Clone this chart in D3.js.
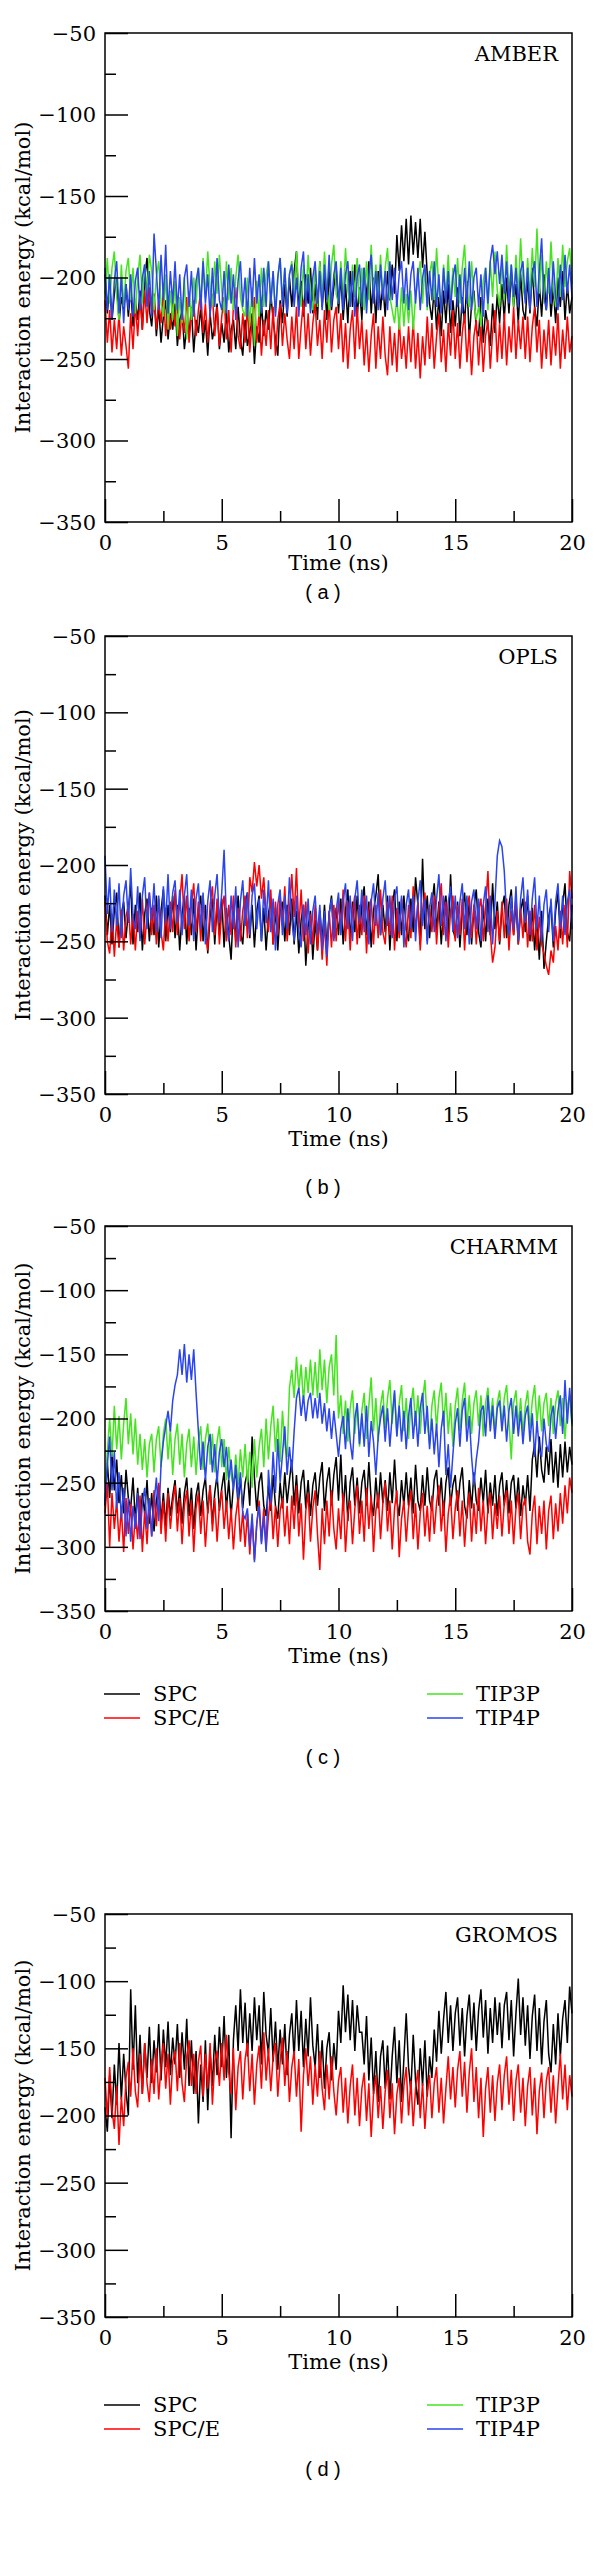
<!DOCTYPE html>
<html><head><meta charset="utf-8">
<script src="https://cdn.jsdelivr.net/npm/d3@7/dist/d3.min.js"></script>
<style>body{margin:0;background:#fff}svg{display:block}</style>
</head><body>
<svg id="chart" width="600" height="2567"></svg>
<script>
// ---------------- data ----------------
const timeStep = 0.1; // ns between samples
const xTicks = [0, 5, 10, 15, 20];
const xMinorTicks = [2.5, 7.5, 12.5, 17.5];
const yTicks = [-50, -100, -150, -200, -250, -300, -350];
const yMinorTicks = [-75, -125, -175, -225, -275, -325];
const seriesNames = ["SPC", "SPC/E", "TIP3P", "TIP4P"];
const forceFields = ["AMBER", "OPLS", "CHARMM", "GROMOS"];
const captions = ["( a )", "( b )", "( c )", "( d )"];

const amberSPC = [-198,-222,-204,-226,-210,-200,-228,-212,-220,-204,
-224,-206,-230,-214,-226,-208,-232,-200,-188,-220,
-230,-210,-236,-218,-240,-224,-214,-238,-222,-232,
-216,-242,-226,-220,-244,-230,-236,-218,-246,-226,
-234,-218,-240,-226,-248,-222,-238,-230,-216,-244,
-228,-240,-220,-246,-232,-226,-244,-218,-238,-248,
-226,-242,-234,-222,-253,-230,-240,-216,-236,-220,
-232,-210,-226,-238,-248,-214,-228,-204,-224,-200,
-218,-196,-184,-220,-202,-224,-198,-216,-194,-222,
-204,-226,-190,-218,-200,-226,-196,-220,-206,-194,
-222,-198,-226,-204,-228,-196,-218,-192,-224,-206,
-226,-194,-214,-190,-222,-200,-228,-196,-220,-204,
-224,-196,-214,-192,-210,-174,-196,-168,-190,-164,
-192,-162,-186,-166,-188,-164,-194,-172,-198,-216,
-226,-206,-232,-212,-236,-208,-228,-204,-234,-214,
-230,-206,-236,-212,-228,-202,-238,-216,-208,-232,
-236,-212,-240,-220,-230,-242,-216,-234,-210,-228,
-204,-226,-200,-222,-196,-218,-204,-228,-198,-220,
-226,-200,-222,-194,-218,-230,-204,-224,-198,-220,
-198,-224,-206,-228,-200,-218,-196,-226,-204,-222,-212];
const amberSPCE = [-214,-240,-220,-246,-226,-244,-222,-248,-230,-242,
-256,-222,-244,-216,-236,-212,-232,-208,-228,-206,
-222,-210,-232,-214,-228,-208,-236,-218,-232,-212,
-230,-216,-238,-220,-234,-212,-240,-222,-214,-236,
-220,-208,-234,-216,-240,-222,-210,-236,-218,-242,
-224,-212,-238,-220,-246,-218,-206,-236,-244,-222,
-240,-218,-246,-226,-212,-240,-222,-248,-226,-242,
-220,-244,-218,-248,-226,-216,-242,-222,-238,-250,
-224,-244,-218,-250,-230,-214,-244,-222,-248,-228,
-216,-242,-226,-250,-220,-240,-214,-246,-226,-218,
-244,-222,-252,-228,-256,-232,-220,-250,-218,-244,
-226,-254,-232,-258,-236,-222,-256,-230,-250,-224,
-248,-260,-230,-254,-234,-258,-226,-250,-236,-256,
-230,-252,-226,-256,-234,-262,-236,-254,-224,-250,
-228,-256,-236,-222,-252,-232,-258,-228,-248,-220,
-250,-228,-256,-234,-222,-252,-232,-260,-236,-226,
-254,-230,-258,-236,-226,-256,-234,-220,-252,-228,
-250,-222,-254,-230,-246,-218,-250,-226,-244,-224,
-250,-224,-252,-230,-218,-246,-226,-256,-232,-250,
-226,-254,-230,-248,-222,-256,-232,-250,-224,-246,-236];
const amberTIP3P = [-210,-188,-216,-194,-184,-212,-226,-192,-218,-196,
-188,-214,-194,-222,-200,-186,-216,-192,-210,-186,
-196,-220,-200,-190,-216,-224,-198,-232,-208,-226,
-202,-236,-212,-228,-200,-238,-208,-226,-200,-216,
-194,-216,-188,-212,-184,-206,-218,-190,-210,-186,
-208,-222,-190,-214,-194,-220,-200,-186,-212,-220,
-224,-200,-230,-206,-242,-202,-224,-194,-218,-198,
-190,-216,-196,-222,-200,-188,-214,-194,-220,-198,
-190,-212,-184,-208,-218,-192,-214,-186,-210,-220,
-194,-218,-190,-212,-184,-208,-220,-192,-180,-210,
-216,-190,-214,-182,-208,-218,-192,-212,-188,-216,
-194,-220,-190,-214,-180,-210,-192,-216,-186,-212,
-194,-182,-212,-220,-228,-212,-232,-206,-230,-210,
-228,-208,-232,-212,-202,-190,-216,-194,-220,-198,
-190,-214,-182,-208,-220,-192,-212,-186,-216,-194,
-212,-188,-216,-194,-180,-210,-218,-190,-214,-226,
-218,-230,-202,-194,-220,-190,-212,-184,-208,-218,
-190,-214,-180,-210,-192,-218,-186,-212,-176,-206,
-214,-188,-212,-182,-206,-170,-210,-186,-216,-190,
-210,-178,-206,-218,-188,-212,-180,-206,-190,-182,-204];
const amberTIP4P = [-194,-220,-198,-226,-202,-190,-222,-200,-228,-204,
-220,-198,-224,-202,-194,-220,-200,-192,-218,-196,
-224,-173,-196,-220,-186,-214,-180,-222,-196,-216,
-190,-220,-198,-226,-200,-192,-218,-196,-224,-202,
-194,-220,-190,-216,-198,-224,-194,-218,-188,-214,
-220,-196,-222,-192,-216,-198,-226,-202,-190,-218,
-200,-224,-194,-218,-188,-216,-198,-222,-194,-218,
-190,-216,-196,-224,-200,-188,-218,-194,-222,-198,
-192,-218,-200,-224,-194,-184,-218,-198,-222,-200,
-190,-216,-196,-220,-192,-214,-186,-218,-198,-190,
-216,-194,-220,-198,-190,-218,-196,-224,-200,-192,
-218,-194,-222,-198,-186,-216,-196,-220,-192,-214,
-196,-220,-190,-214,-194,-218,-198,-190,-216,-194,
-220,-198,-190,-216,-194,-220,-200,-192,-218,-196,
-214,-190,-218,-198,-222,-194,-216,-196,-220,-200,
-192,-218,-198,-222,-194,-216,-190,-220,-200,-194,
-218,-198,-224,-194,-216,-190,-180,-198,-184,-204,
-186,-210,-190,-216,-192,-212,-194,-218,-196,-190,
-216,-194,-220,-198,-190,-218,-196,-176,-212,-220,
-194,-216,-190,-212,-220,-192,-214,-186,-210,-192,-212];

const oplsSPC = [-220,-246,-226,-252,-230,-218,-254,-232,-224,-248,
-230,-212,-252,-226,-244,-218,-256,-232,-222,-250,
-228,-246,-220,-254,-230,-216,-250,-226,-244,-220,
-248,-226,-256,-232,-220,-252,-228,-246,-222,-256,
-230,-220,-250,-226,-258,-234,-222,-252,-226,-246,
-222,-254,-228,-246,-262,-226,-250,-220,-244,-252,
-226,-218,-248,-226,-254,-230,-220,-250,-228,-256,
-232,-222,-252,-228,-256,-230,-224,-250,-226,-246,
-222,-252,-230,-258,-236,-226,-266,-240,-230,-262,
-236,-256,-230,-250,-226,-254,-232,-220,-248,-228,
-246,-222,-252,-230,-216,-250,-224,-244,-220,-248,
-226,-214,-246,-224,-254,-230,-220,-206,-246,-226,
-244,-220,-256,-228,-216,-250,-224,-246,-220,-242,
-250,-222,-244,-208,-226,-252,-196,-242,-220,-248,
-226,-212,-244,-224,-252,-228,-220,-246,-206,-242,
-248,-224,-254,-230,-218,-246,-224,-252,-228,-216,
-244,-254,-226,-250,-222,-246,-212,-242,-224,-252,
-228,-220,-248,-226,-216,-246,-224,-252,-230,-222,
-244,-220,-250,-228,-256,-234,-262,-230,-268,-250,
-234,-226,-254,-230,-218,-248,-226,-212,-244,-250,-226];
const oplsSPCE = [-224,-250,-258,-232,-260,-236,-254,-230,-256,-234,
-226,-252,-232,-256,-230,-248,-222,-252,-232,-218,
-246,-226,-252,-222,-244,-256,-228,-250,-224,-244,
-216,-246,-224,-206,-242,-220,-250,-226,-212,-244,
-224,-250,-220,-244,-256,-226,-214,-246,-222,-252,
-230,-220,-250,-226,-246,-220,-254,-228,-250,-230,
-220,-248,-208,-218,-198,-214,-200,-222,-208,-232,
-244,-216,-252,-224,-246,-220,-240,-214,-250,-230,
-206,-234,-202,-242,-216,-250,-224,-258,-232,-252,
-226,-256,-234,-262,-238,-266,-230,-254,-226,-250,
-222,-244,-216,-250,-224,-256,-230,-220,-252,-226,
-246,-220,-258,-230,-222,-252,-226,-248,-216,-244,
-252,-224,-246,-220,-256,-228,-248,-222,-242,-254,
-226,-248,-214,-244,-224,-256,-230,-218,-250,-226,
-244,-220,-252,-228,-212,-246,-224,-254,-230,-220,
-250,-226,-246,-222,-256,-228,-220,-248,-226,-252,
-230,-222,-250,-228,-204,-244,-264,-254,-230,-250,
-224,-248,-222,-256,-230,-246,-220,-252,-228,-248,
-224,-254,-230,-250,-226,-256,-234,-252,-258,-266,
-272,-256,-264,-240,-256,-230,-252,-226,-254,-204,-222];
const oplsTIP3P = [];
const oplsTIP4P = [-194,-232,-208,-244,-216,-240,-212,-248,-220,-210,
-238,-202,-234,-242,-214,-250,-220,-208,-242,-218,
-236,-212,-244,-220,-248,-214,-238,-206,-242,-218,
-210,-238,-216,-246,-220,-206,-240,-216,-250,-222,
-212,-242,-218,-252,-224,-210,-244,-220,-206,-238,
-218,-190,-236,-250,-220,-242,-214,-254,-224,-210,
-240,-218,-246,-220,-212,-242,-222,-250,-216,-238,
-210,-244,-222,-256,-226,-216,-246,-220,-242,-208,
-236,-250,-220,-244,-254,-226,-246,-222,-252,-230,
-220,-246,-226,-256,-230,-260,-232,-222,-250,-230,
-218,-246,-224,-212,-242,-220,-250,-222,-210,-238,
-216,-244,-220,-252,-224,-212,-240,-218,-246,-222,
-210,-240,-220,-248,-222,-214,-244,-220,-254,-226,
-216,-242,-220,-250,-224,-210,-240,-222,-252,-228,
-218,-244,-222,-206,-240,-220,-250,-224,-214,-244,
-220,-248,-224,-212,-242,-220,-252,-224,-216,-242,
-222,-250,-226,-214,-244,-220,-252,-224,-194,-184,
-188,-204,-234,-246,-220,-242,-214,-250,-222,-208,
-238,-216,-246,-222,-208,-242,-220,-250,-226,-216,
-244,-222,-250,-224,-212,-242,-220,-246,-224,-216,-242];

const charmmSPC = [-268,-234,-262,-226,-256,-232,-266,-244,-274,-240,
-262,-270,-246,-280,-254,-286,-258,-274,-248,-282,
-258,-288,-264,-252,-280,-258,-284,-254,-276,-260,
-248,-274,-254,-282,-258,-246,-276,-254,-286,-260,
-250,-276,-256,-246,-274,-252,-282,-258,-244,-272,
-254,-242,-270,-248,-276,-252,-240,-268,-246,-270,
-250,-242,-268,-214,-246,-272,-250,-242,-268,-276,
-252,-272,-244,-268,-278,-250,-270,-242,-266,-248,
-232,-268,-244,-274,-250,-240,-270,-248,-276,-252,
-242,-268,-246,-234,-272,-250,-238,-268,-244,-230,
-264,-228,-272,-244,-280,-250,-238,-268,-246,-274,
-250,-240,-268,-234,-264,-276,-246,-270,-242,-266,
-248,-272,-242,-266,-232,-264,-276,-248,-268,-242,
-268,-246,-274,-236,-264,-272,-244,-268,-238,-264,
-272,-248,-240,-268,-246,-276,-250,-238,-268,-252,
-244,-272,-250,-238,-268,-278,-248,-270,-242,-264,
-272,-246,-266,-240,-274,-250,-268,-244,-276,-252,
-242,-268,-248,-274,-250,-244,-270,-246,-276,-252,
-268,-244,-272,-232,-220,-246,-214,-240,-250,-222,
-244,-216,-250,-226,-254,-220,-246,-218,-242,-222,-236];
const charmmSPCE = [-274,-250,-300,-258,-286,-264,-296,-270,-304,-262,
-290,-266,-302,-274,-294,-260,-304,-272,-298,-264,
-292,-256,-284,-250,-290,-264,-296,-258,-286,-266,
-252,-288,-262,-298,-268,-256,-292,-264,-304,-270,
-258,-290,-264,-300,-272,-252,-288,-262,-296,-268,
-256,-286,-264,-294,-270,-302,-276,-262,-296,-272,
-300,-274,-306,-278,-310,-282,-264,-296,-270,-302,
-276,-260,-294,-268,-300,-272,-262,-292,-268,-298,
-260,-286,-252,-292,-266,-310,-272,-258,-296,-270,
-256,-290,-318,-270,-298,-264,-292,-256,-286,-302,
-270,-294,-258,-304,-274,-264,-298,-270,-252,-290,
-264,-296,-254,-286,-260,-304,-272,-258,-294,-266,
-250,-288,-264,-302,-270,-256,-308,-278,-264,-296,
-270,-256,-294,-266,-302,-274,-258,-292,-268,-296,
-260,-290,-266,-252,-288,-264,-304,-274,-260,-294,
-270,-256,-292,-264,-300,-272,-258,-296,-266,-290,
-254,-288,-264,-298,-270,-258,-294,-266,-286,-260,
-292,-266,-256,-290,-264,-298,-270,-258,-294,-268,
-262,-296,-306,-274,-260,-298,-268,-290,-264,-302,
-272,-260,-294,-266,-288,-258,-282,-252,-274,-246,-258];
const charmmTIP3P = [-250,-226,-200,-230,-190,-224,-198,-232,-204,-184,
-220,-196,-228,-200,-236,-212,-240,-216,-246,-220,
-212,-242,-216,-206,-238,-212,-200,-232,-208,-244,
-216,-204,-236,-212,-246,-220,-208,-238,-214,-244,
-218,-206,-240,-216,-204,-236,-212,-242,-218,-206,
-238,-216,-248,-222,-244,-254,-228,-252,-224,-246,
-220,-250,-226,-254,-216,-246,-222,-208,-238,-200,
-232,-206,-190,-226,-200,-234,-194,-220,-230,-176,
-162,-184,-152,-178,-158,-188,-160,-180,-154,-182,
-156,-184,-146,-178,-154,-188,-160,-150,-182,-135,
-200,-182,-212,-186,-218,-192,-178,-212,-188,-222,
-194,-180,-216,-190,-168,-210,-184,-218,-190,-178,
-208,-184,-170,-204,-180,-214,-188,-174,-210,-184,
-216,-190,-176,-206,-182,-212,-186,-170,-204,-220,
-190,-178,-208,-184,-172,-206,-180,-212,-188,-222,
-190,-176,-210,-186,-172,-206,-182,-212,-188,-178,
-206,-182,-214,-188,-176,-204,-184,-212,-188,-178,
-206,-184,-174,-202,-232,-188,-178,-206,-184,-212,
-190,-178,-208,-186,-174,-204,-182,-210,-188,-180,
-206,-184,-212,-188,-178,-206,-184,-216,-190,-182,-206];
const charmmTIP4P = [-266,-236,-214,-256,-226,-270,-242,-278,-254,-292,
-262,-296,-268,-286,-258,-294,-266,-254,-286,-262,
-292,-266,-246,-280,-236,-218,-206,-194,-210,-186,
-174,-166,-146,-166,-142,-172,-150,-170,-146,-180,
-210,-240,-218,-248,-222,-212,-242,-220,-250,-226,
-216,-238,-222,-248,-232,-256,-236,-262,-242,-274,
-278,-270,-300,-274,-312,-282,-268,-298,-276,-304,
-240,-266,-226,-258,-216,-250,-228,-206,-244,-222,
-242,-210,-184,-176,-198,-182,-202,-186,-180,-200,
-184,-200,-180,-204,-188,-210,-192,-216,-194,-212,
-230,-208,-198,-224,-192,-218,-232,-200,-188,-220,
-196,-222,-190,-230,-202,-218,-244,-214,-200,-190,
-218,-192,-222,-198,-178,-214,-190,-218,-194,-224,
-198,-184,-216,-194,-222,-192,-180,-212,-190,-224,
-200,-228,-204,-238,-208,-194,-244,-220,-254,-228,
-204,-192,-222,-194,-184,-218,-198,-230,-252,-232,
-218,-194,-190,-214,-182,-210,-190,-216,-192,-186,
-210,-190,-218,-194,-184,-212,-190,-214,-194,-220,
-198,-190,-218,-196,-230,-202,-224,-230,-200,-220,
-226,-198,-190,-216,-194,-182,-212,-170,-204,-176,-204];

const gromosSPC = [-194,-212,-170,-202,-162,-192,-146,-188,-154,-182,
-200,-106,-166,-118,-176,-140,-184,-146,-172,-134,
-176,-144,-168,-132,-174,-136,-164,-130,-170,-142,
-162,-132,-172,-138,-166,-128,-178,-144,-184,-152,
-206,-162,-190,-144,-196,-152,-178,-140,-170,-134,
-164,-126,-172,-140,-217,-144,-118,-152,-106,-146,
-116,-156,-124,-152,-112,-144,-118,-162,-108,-140,
-154,-120,-160,-130,-166,-136,-162,-132,-170,-140,
-124,-158,-114,-152,-122,-164,-128,-156,-112,-148,
-164,-132,-172,-144,-180,-150,-138,-174,-146,-166,
-122,-146,-103,-138,-110,-144,-114,-152,-118,-138,
-138,-162,-126,-174,-142,-184,-152,-190,-156,-144,
-180,-148,-188,-156,-134,-176,-144,-190,-158,-124,
-164,-182,-140,-174,-192,-150,-178,-144,-186,-156,
-172,-136,-160,-122,-154,-128,-108,-146,-118,-152,
-124,-112,-148,-120,-156,-126,-110,-144,-116,-152,
-122,-106,-142,-114,-154,-120,-146,-112,-140,-116,
-150,-118,-108,-144,-114,-156,-124,-98,-140,-112,
-148,-118,-158,-126,-110,-152,-120,-162,-130,-114,
-154,-168,-132,-162,-124,-156,-128,-114,-146,-104,-124];
const gromosSPCE = [-172,-202,-164,-196,-210,-178,-222,-186,-208,-172,
-160,-186,-150,-182,-194,-154,-184,-146,-176,-190,
-158,-184,-150,-188,-162,-146,-180,-154,-192,-160,
-152,-182,-146,-176,-190,-156,-144,-178,-154,-184,
-160,-148,-186,-154,-180,-146,-192,-160,-152,-178,
-146,-174,-140,-168,-184,-150,-196,-164,-152,-188,
-158,-146,-182,-154,-192,-162,-148,-180,-138,-174,
-150,-182,-156,-146,-186,-160,-142,-178,-152,-190,
-164,-152,-186,-158,-212,-170,-150,-178,-156,-192,
-162,-186,-152,-180,-196,-162,-188,-156,-182,-200,
-174,-164,-198,-172,-206,-178,-162,-200,-172,-208,
-180,-168,-204,-176,-216,-184,-170,-202,-178,-210,
-182,-166,-202,-176,-214,-184,-172,-206,-178,-164,
-200,-174,-208,-180,-166,-202,-176,-210,-182,-170,
-202,-176,-164,-198,-172,-206,-180,-156,-188,-164,
-194,-166,-152,-186,-160,-198,-168,-150,-190,-164,
-202,-172,-216,-180,-164,-198,-170,-204,-176,-162,
-196,-170,-156,-192,-166,-204,-174,-162,-198,-172,
-208,-178,-164,-200,-172,-214,-182,-168,-202,-174,
-164,-198,-170,-206,-178,-154,-188,-162,-196,-170,-186];
const gromosTIP3P = [];
const gromosTIP4P = [];

// ---------------- layout / style ----------------
const colors = ["#000000", "#ff0000", "#44e41e", "#2a44ee"];
const serif = "'DejaVu Serif',serif";
const sans = "'Liberation Sans',Arial,sans-serif";
const fs = 21;
const left = 105, right = 572;
const layouts = [
  {top: 33,   bottom: 522,  timeGap: 48, caption: 592,  legend: null},
  {top: 636,  bottom: 1094, timeGap: 52, caption: 1187, legend: null},
  {top: 1226, bottom: 1611, timeGap: 52, caption: 1757, legend: [1694, 1718]},
  {top: 1914, bottom: 2317, timeGap: 52, caption: 2469, legend: [2405, 2429]}
];
const panelSeries = [
  [amberSPC, amberSPCE, amberTIP3P, amberTIP4P],
  [oplsSPC, oplsSPCE, oplsTIP3P, oplsTIP4P],
  [charmmSPC, charmmSPCE, charmmTIP3P, charmmTIP4P],
  [gromosSPC, gromosSPCE, gromosTIP3P, gromosTIP4P]
];

const svg = d3.select("#chart");

panelSeries.forEach((series, p) => {
  const L = layouts[p];
  const x = d3.scaleLinear().domain([0, 20]).range([left, right]);
  const y = d3.scaleLinear().domain([-350, -50]).range([L.bottom, L.top]);
  const g = svg.append("g");

  const line = d3.line().x((d, i) => x(i * timeStep)).y(d => y(d));
  series.forEach((vals, s) => {
    if (!vals.length) return;
    g.append("path").datum(vals)
      .attr("d", line)
      .attr("fill", "none")
      .attr("stroke", colors[s])
      .attr("stroke-width", 1.5)
      .attr("stroke-linejoin", "miter");
  });

  const xAxis = g.append("g").attr("transform", `translate(0,${L.bottom})`)
    .call(d3.axisBottom(x).tickValues(xTicks).tickSizeInner(-23).tickSizeOuter(0)
      .tickFormat(d3.format("d")));
  const xMinor = g.append("g").attr("transform", `translate(0,${L.bottom})`)
    .call(d3.axisBottom(x).tickValues(xMinorTicks).tickSizeInner(-11).tickSizeOuter(0).tickFormat(""));
  const yAxis = g.append("g").attr("transform", `translate(${left},0)`)
    .call(d3.axisLeft(y).tickValues(yTicks).tickSizeInner(-23).tickSizeOuter(0)
      .tickFormat(d => "\u2212" + Math.abs(d)));
  const yMinor = g.append("g").attr("transform", `translate(${left},0)`)
    .call(d3.axisLeft(y).tickValues(yMinorTicks).tickSizeInner(-11).tickSizeOuter(0).tickFormat(""));
  [xAxis, xMinor, yAxis, yMinor].forEach(a => {
    a.select(".domain").remove();
    a.selectAll("line").attr("stroke", "#000").attr("stroke-width", 1.5);
    a.selectAll("text").attr("font-family", serif).attr("font-size", fs).attr("fill", "#000");
  });
  xAxis.selectAll("text").attr("y", 13).attr("dy", "0.71em");
  yAxis.selectAll("text").attr("x", -9).attr("dy", "0.35em");

  g.append("rect").attr("x", left).attr("y", L.top)
    .attr("width", right - left).attr("height", L.bottom - L.top)
    .attr("fill", "none").attr("stroke", "#000").attr("stroke-width", 1.5);

  g.append("text").attr("x", right - 14).attr("y", L.top + 28)
    .attr("text-anchor", "end").attr("font-family", serif).attr("font-size", fs)
    .text(forceFields[p]);

  g.append("text").attr("x", (left + right) / 2).attr("y", L.bottom + L.timeGap)
    .attr("text-anchor", "middle").attr("font-family", serif).attr("font-size", fs)
    .text("Time (ns)");
  g.append("text")
    .attr("transform", `translate(23,${(L.top + L.bottom) / 2}) rotate(-90)`)
    .attr("text-anchor", "middle").attr("dy", "0.35em")
    .attr("font-family", serif).attr("font-size", fs)
    .text("Interaction energy (kcal/mol)");

  if (L.legend) {
    const cols = [{x1: 104, x2: 140, tx: 153}, {x1: 427, x2: 463, tx: 476}];
    seriesNames.forEach((nm, s) => {
      const c = cols[Math.floor(s / 2)];
      const yy = L.legend[s % 2];
      g.append("line").attr("x1", c.x1).attr("x2", c.x2).attr("y1", yy).attr("y2", yy)
        .attr("stroke", colors[s]).attr("stroke-width", 1.6);
      g.append("text").attr("x", c.tx).attr("y", yy).attr("dy", "0.35em")
        .attr("font-family", serif).attr("font-size", fs).text(nm);
    });
  }

  g.append("text").attr("x", 323).attr("y", L.caption).attr("dy", "0.35em")
    .attr("text-anchor", "middle").attr("font-family", sans).attr("font-size", 20)
    .style("white-space", "pre")
    .text(captions[p]);
});
</script>
</body></html>
